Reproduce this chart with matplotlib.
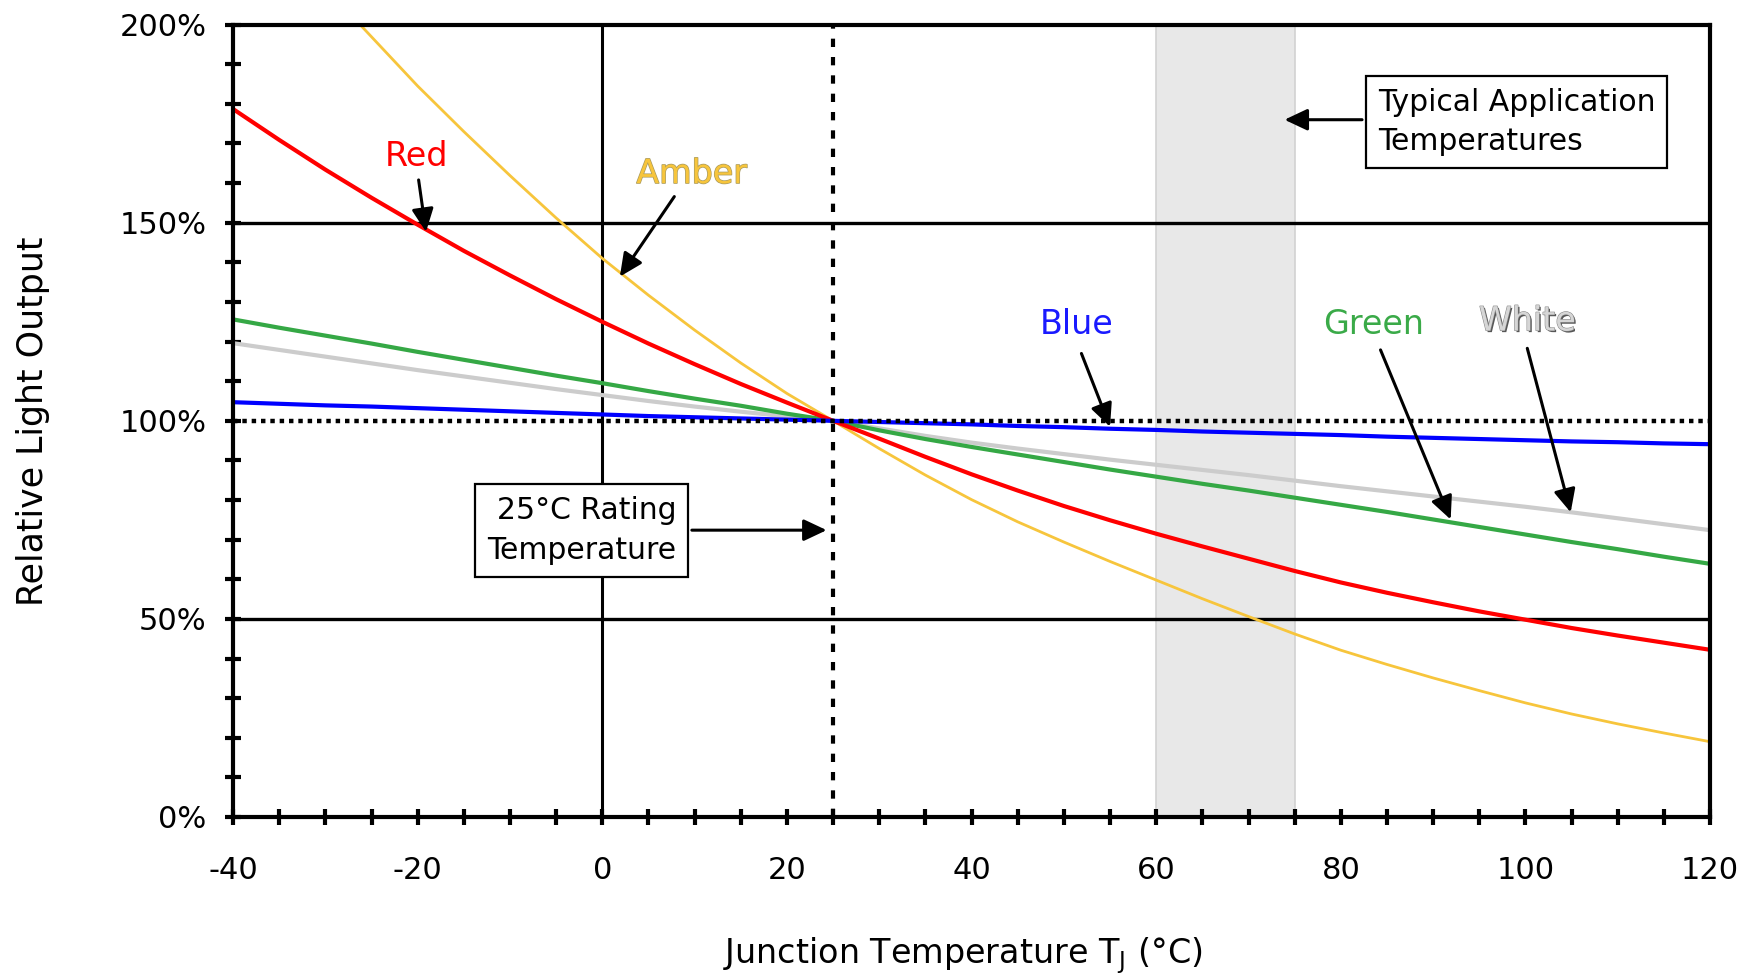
import matplotlib
matplotlib.use("Agg")
import matplotlib.pyplot as plt
import matplotlib.patheffects as pe
from matplotlib.ticker import MultipleLocator, FuncFormatter

# junction temperature (deg C) and relative light output (%)
temps = [-40, -35, -30, -25, -20, -15, -10, -5, 0, 5, 10, 15, 20, 25, 30, 35, 40,
         45, 50, 55, 60, 65, 70, 75, 80, 85, 90, 95, 100, 105, 110, 115, 120]
red = [178.7, 170.9, 163.4, 156.3, 149.5, 142.9, 136.7, 130.7, 125.0, 119.5, 114.3, 109.3, 104.6, 100.0, 95.5, 90.9, 86.5,
       82.4, 78.5, 74.9, 71.5, 68.3, 65.2, 62.1, 59.2, 56.6, 54.2, 51.9, 49.8, 47.7, 45.8, 44.0, 42.2]
green = [125.6, 123.5, 121.5, 119.5, 117.4, 115.4, 113.4, 111.4, 109.5, 107.5, 105.6, 103.8, 101.8, 100.0, 97.6, 95.4, 93.4,
         91.5, 89.6, 87.7, 85.9, 84.1, 82.4, 80.6, 78.8, 77.0, 75.1, 73.2, 71.3, 69.4, 67.6, 65.7, 63.9]
white = [119.6, 117.9, 116.2, 114.5, 112.8, 111.2, 109.6, 108.0, 106.5, 105.0, 103.6, 102.3, 101.1, 100.0, 98.1, 96.2, 94.5,
         93.0, 91.6, 90.2, 88.9, 87.6, 86.3, 84.9, 83.5, 82.2, 80.9, 79.6, 78.3, 76.9, 75.4, 73.9, 72.4]
blue = [104.7, 104.3, 103.9, 103.6, 103.2, 102.8, 102.4, 102.0, 101.6, 101.2, 100.9, 100.6, 100.3, 100.0, 99.7, 99.4, 99.1,
        98.7, 98.4, 98.0, 97.7, 97.3, 97.0, 96.7, 96.4, 96.0, 95.7, 95.4, 95.1, 94.8, 94.6, 94.3, 94.1]

amber_temps = [-26, -20, -15, -10, -5, 0, 5, 10, 15, 20, 25, 30, 35, 40, 45, 50, 55,
               60, 65, 70, 75, 80, 85, 90, 95, 100, 105, 110, 115, 120]
amber = [199.4, 184.5, 173.0, 161.9, 151.2, 141.0, 131.7, 122.9, 114.6, 106.9, 100.0, 93.0, 86.3, 80.1, 74.5, 69.4, 64.5,
         59.8, 55.1, 50.6, 46.2, 42.1, 38.5, 35.1, 31.9, 28.8, 26.0, 23.5, 21.2, 19.0]

band = (60, 75)
rating_temp = 25

plt.rcParams['font.family'] = ['DejaVu Sans']
plt.rcParams['axes.unicode_minus'] = False

fig = plt.figure(figsize=(17.55, 9.74), dpi=100)
ax = fig.add_axes([0.1328, 0.1612, 0.8416, 0.8135])
ax.set_xlim(-40, 120)
ax.set_ylim(0, 200)

ax.axvspan(band[0], band[1], facecolor='#e8e8e8', edgecolor='#d2d2d2', lw=1.2, zorder=0)

ax.axhline(50, color='black', lw=2.4, zorder=1)
ax.axhline(150, color='black', lw=2.4, zorder=1)
ax.axvline(0, color='black', lw=2.2, zorder=1)
ax.axhline(100, color='black', lw=3.2, ls=(0, (1.0, 1.1)), zorder=3)
ax.axvline(rating_temp, color='black', lw=3.0, ls=(0, (2.0, 2.4)), zorder=3)

ax.plot(amber_temps, amber, color='#f7c53c', lw=2.0, zorder=2)
ax.plot(temps, white, color='#cccccc', lw=3.0, zorder=2)
ax.plot(temps, green, color='#35a845', lw=3.0, zorder=2)
ax.plot(temps, red, color='#ff0000', lw=3.0, zorder=2)
ax.plot(temps, blue, color='#0000ff', lw=3.0, zorder=2)

for s in ax.spines.values():
    s.set_linewidth(3)
    s.set_zorder(4)

ax.xaxis.set_major_locator(MultipleLocator(20))
ax.xaxis.set_minor_locator(MultipleLocator(5))
ax.yaxis.set_major_locator(MultipleLocator(50))
ax.yaxis.set_minor_locator(MultipleLocator(10))
ax.yaxis.set_major_formatter(FuncFormatter(lambda v, p: f"{v:.0f}%"))
ax.tick_params(which='both', direction='inout', length=12, width=3, colors='black')
ax.tick_params(axis='x', which='major', pad=22, labelsize=22)
ax.tick_params(axis='y', which='major', pad=13, labelsize=22)

ax.set_xlabel('Junction Temperature T$_\\mathregular{J}$ (°C)', fontsize=24, labelpad=36)
ax.xaxis.label.set_x(0.494)
ax.set_ylabel('Relative Light Output', fontsize=25)
ax.yaxis.set_label_coords(-0.124, 0.5)

arrow = dict(arrowstyle='-|>,head_length=0.7,head_width=0.33', lw=2.2, color='black',
             shrinkA=0, shrinkB=0, mutation_scale=20)

# series labels and pointers
ax.text(-20.1, 166.7, 'Red', color='#ff0000', fontsize=24, ha='center', va='center')
ax.annotate('', xy=(-19.1, 147.7), xytext=(-19.9, 160.8), arrowprops=arrow, zorder=5)

ax.text(9.7, 162.4, 'Amber', color='#f7c53c', fontsize=24, ha='center', va='center',
        path_effects=[pe.withStroke(linewidth=1.0, foreground='#a89a60')])
ax.annotate('', xy=(1.9, 136.4), xytext=(7.8, 156.6), arrowprops=arrow, zorder=5)

ax.text(51.4, 124.3, 'Blue', color='#1a1aff', fontsize=24, ha='center', va='center')
ax.annotate('', xy=(55.0, 98.5), xytext=(51.9, 117.0), arrowprops=arrow, zorder=5)

ax.text(83.6, 124.3, 'Green', color='#3aaa48', fontsize=24, ha='center', va='center')
ax.annotate('', xy=(91.9, 75.1), xytext=(84.3, 117.9), arrowprops=arrow, zorder=5)

ax.text(100.2, 125.2, 'White', color='#d6d6d6', fontsize=24, ha='center', va='center',
        path_effects=[pe.SimplePatchShadow(offset=(1.2, -1.2), shadow_rgbFace='#444444', alpha=0.9),
                      pe.withStroke(linewidth=0.8, foreground='#888888')])
ax.annotate('', xy=(104.9, 76.9), xytext=(100.2, 118.3), arrowprops=arrow, zorder=5)

# callout boxes
ax.text(84.0, 175.5, 'Typical Application\nTemperatures', fontsize=21.5, ha='left', va='center',
        linespacing=1.45, zorder=6,
        bbox=dict(boxstyle='square,pad=0.4', facecolor='white', edgecolor='black', lw=1.6))
ax.annotate('', xy=(73.9, 176.0), xytext=(82.3, 176.0), arrowprops=arrow, zorder=5)

ax.text(8.0, 72.3, '25°C Rating\nTemperature', fontsize=21.5, ha='right', va='center',
        linespacing=1.45, zorder=6,
        bbox=dict(boxstyle='square,pad=0.4', facecolor='white', edgecolor='black', lw=1.6))
ax.annotate('', xy=(24.3, 72.4), xytext=(9.7, 72.4), arrowprops=arrow, zorder=5)

fig.savefig('out.png', dpi=100, facecolor='white')
